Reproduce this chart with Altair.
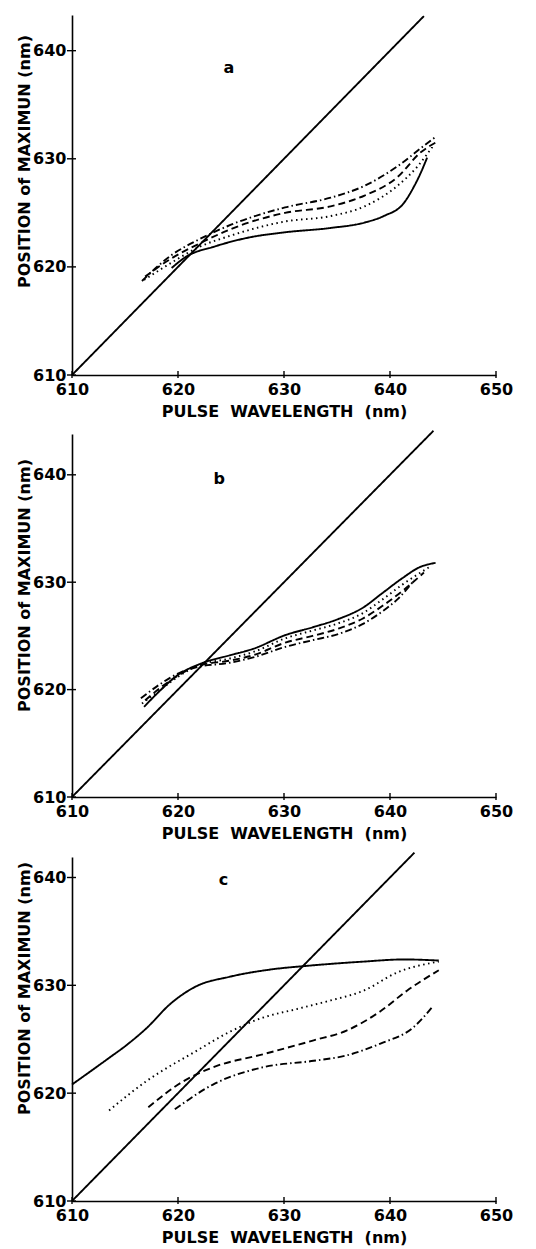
import altair as alt
import pandas as pd

X_TICKS = [610, 620, 630, 640, 650]
Y_TICKS = [610, 620, 630, 640]
X_TITLE = "PULSE\u00a0\u00a0WAVELENGTH\u00a0\u00a0(nm)"
Y_TITLE = "POSITION of MAXIMUN (nm)"
SERIES = ["diag", "solid", "dotted", "dashed", "dashdot"]
DASHES = [[1, 0], [1, 0], [1.5, 3.5], [7, 4], [7, 3, 1.5, 3]]

# ---- panel a ----
A_SOLID_X = [619.4, 620.7, 623.5, 626.6, 630.1, 634.4, 637.6, 639.4, 641.3, 642.3, 642.9, 643.5]
A_SOLID_Y = [619.9, 620.9, 621.9, 622.7, 623.2, 623.6, 624.1, 624.7, 625.9, 627.5, 628.7, 630.1]
A_DOT_X = [616.8, 619.4, 621.9, 625.0, 630.1, 634.4, 637.6, 640.7, 642.6, 644.0]
A_DOT_Y = [618.8, 620.4, 621.8, 622.9, 624.2, 624.7, 625.6, 627.5, 629.3, 631.1]
A_DASH_X = [616.9, 619.4, 621.9, 625.0, 630.1, 634.4, 637.6, 640.7, 642.9, 644.3]
A_DASH_Y = [619.1, 620.8, 622.1, 623.5, 625.0, 625.6, 626.6, 628.3, 630.6, 631.5]
A_DD_X = [616.6, 619.4, 621.9, 625.0, 630.1, 634.4, 637.6, 640.7, 643.2, 644.4]
A_DD_Y = [618.7, 621.1, 622.5, 623.9, 625.5, 626.4, 627.5, 629.3, 631.2, 632.1]

# ---- panel b ----
B_SOLID_X = [616.8, 618.3, 619.9, 622.1, 624.9, 627.1, 630.2, 632.7, 635.2, 637.4, 639.3, 641.2, 642.8, 644.3]
B_SOLID_Y = [618.4, 619.9, 621.3, 622.4, 623.2, 623.8, 625.1, 625.8, 626.6, 627.6, 629.0, 630.4, 631.4, 631.8]
B_DOT_X = [616.6, 618.5, 620.0, 621.8, 624.9, 627.1, 630.2, 632.7, 635.2, 637.4, 639.3, 641.2, 643.7]
B_DOT_Y = [618.7, 620.1, 621.2, 622.2, 622.9, 623.5, 624.8, 625.5, 626.2, 627.1, 628.4, 629.8, 631.4]
B_DASH_X = [616.9, 618.5, 620.0, 621.8, 624.9, 627.1, 630.2, 632.7, 635.2, 637.4, 639.3, 641.2, 643.2]
B_DASH_Y = [619.0, 620.3, 621.3, 622.2, 622.7, 623.2, 624.4, 625.0, 625.7, 626.6, 627.8, 629.2, 630.9]
B_DD_X = [616.5, 618.3, 620.0, 621.8, 624.9, 627.1, 630.2, 632.7, 635.2, 637.4, 639.3, 640.8, 642.3]
B_DD_Y = [619.2, 620.5, 621.5, 622.1, 622.5, 623.0, 624.0, 624.6, 625.2, 626.1, 627.3, 628.5, 630.2]

# ---- panel c ----
C_SOLID_X = [610.0, 613.4, 615.2, 617.0, 619.3, 621.7, 624.9, 629.0, 632.1, 637.5, 641.3, 644.6]
C_SOLID_Y = [620.8, 623.2, 624.5, 626.0, 628.3, 629.9, 630.8, 631.5, 631.8, 632.2, 632.4, 632.3]
C_DOT_X = [613.5, 617.0, 621.7, 624.9, 628.0, 631.2, 634.4, 637.5, 640.7, 644.6]
C_DOT_Y = [618.4, 621.1, 623.9, 625.7, 627.0, 627.8, 628.6, 629.5, 631.2, 632.2]
C_DASH_X = [617.2, 620.5, 623.3, 628.0, 632.8, 635.9, 639.1, 641.6, 644.6]
C_DASH_Y = [618.7, 621.1, 622.4, 623.6, 624.9, 625.8, 627.6, 629.5, 631.4]
C_DD_X = [619.7, 623.3, 628.0, 632.8, 635.9, 639.1, 642.2, 644.0]
C_DD_Y = [618.5, 620.8, 622.4, 623.0, 623.5, 624.6, 626.1, 628.0]

DIAG_END = {"a": 643.2, "b": 644.1, "c": 642.3}
Y_TOP = {"a": 643.3, "b": 643.8, "c": 641.9}
HEIGHTS = {"a": 360, "b": 363, "c": 344}
TITLE_Y = {"a": 146, "b": 151, "c": 131}
LABEL_POS = {"a": (624.8, 638.4), "b": (623.9, 639.6), "c": (624.3, 639.8)}

WIDTH = 424
FONT = "DejaVu Sans"


def panel(name, curves):
    rows = []
    for s, (xs, ys) in curves.items():
        for i, (x, y) in enumerate(zip(xs, ys)):
            rows.append({"x": x, "y": y, "s": s, "i": i})
    d = DIAG_END[name]
    rows += [{"x": 610, "y": 610, "s": "diag", "i": 0},
             {"x": d, "y": d, "s": "diag", "i": 1}]
    df = pd.DataFrame(rows)
    h = HEIGHTS[name]
    xs = alt.Scale(domain=[610, 650], nice=False, zero=False)
    ys = alt.Scale(domain=[610, Y_TOP[name]], nice=False, zero=False)

    x_axis = alt.Axis(values=X_TICKS, format="d", ticks=False, tickSize=0, grid=False,
                      labelFont=FONT, labelFontWeight="bold", labelFontSize=16, labelColor="black",
                      labelPadding=6, labelFlush=False,
                      domainColor="black", domainWidth=1.6,
                      title=X_TITLE, titleFont=FONT, titleFontWeight="bold", titleFontSize=16,
                      titleColor="black", titlePadding=6)
    y_axis = alt.Axis(values=Y_TICKS, format="d", ticks=False, tickSize=0, grid=False,
                      labelFont=FONT, labelFontWeight="bold", labelFontSize=16, labelColor="black",
                      labelPadding=6, labelFlush=False,
                      domainColor="black", domainWidth=1.6,
                      title=Y_TITLE, titleFont=FONT, titleFontWeight="bold", titleFontSize=16,
                      titleColor="black", titleX=-40, titleY=TITLE_Y[name], titleAlign="center")

    lines = alt.Chart(df).mark_line(color="black", strokeWidth=1.9, interpolate="monotone",
                                    clip=False).encode(
        x=alt.X("x:Q", scale=xs, axis=x_axis),
        y=alt.Y("y:Q", scale=ys, axis=y_axis),
        detail="s:N",
        strokeDash=alt.StrokeDash("s:N", scale=alt.Scale(domain=SERIES, range=DASHES), legend=None),
        order="i:Q",
    )

    xt = pd.DataFrame({"t": X_TICKS})
    yt = pd.DataFrame({"t": Y_TICKS})
    xticks = alt.Chart(xt).mark_rule(color="black", strokeWidth=1.4).encode(
        x=alt.X("t:Q", scale=xs), y=alt.value(h - 4), y2=alt.value(h + 3))
    yticks = alt.Chart(yt).mark_rule(color="black", strokeWidth=1.4).encode(
        y=alt.Y("t:Q", scale=ys), x=alt.value(-5), x2=alt.value(4))

    lx, ly = LABEL_POS[name]
    lab = alt.Chart(pd.DataFrame({"x": [lx], "y": [ly], "t": [name]})).mark_text(
        font=FONT, fontWeight="bold", fontSize=16, color="black").encode(
        x=alt.X("x:Q", scale=xs), y=alt.Y("y:Q", scale=ys), text="t:N")

    return alt.layer(lines, xticks, yticks, lab).properties(width=WIDTH, height=h)


pa = panel("a", {"solid": (A_SOLID_X, A_SOLID_Y), "dotted": (A_DOT_X, A_DOT_Y),
                 "dashed": (A_DASH_X, A_DASH_Y), "dashdot": (A_DD_X, A_DD_Y)})
pb = panel("b", {"solid": (B_SOLID_X, B_SOLID_Y), "dotted": (B_DOT_X, B_DOT_Y),
                 "dashed": (B_DASH_X, B_DASH_Y), "dashdot": (B_DD_X, B_DD_Y)})
pc = panel("c", {"solid": (C_SOLID_X, C_SOLID_Y), "dotted": (C_DOT_X, C_DOT_Y),
                 "dashed": (C_DASH_X, C_DASH_Y), "dashdot": (C_DD_X, C_DD_Y)})

chart = alt.vconcat(pa, pb, pc, spacing=7).properties(
    padding={"left": 7, "top": 4, "right": 5, "bottom": 5},
    background="white",
).configure_view(stroke=None)

chart.save("out.html", embed_options={"renderer": "svg", "actions": False})
